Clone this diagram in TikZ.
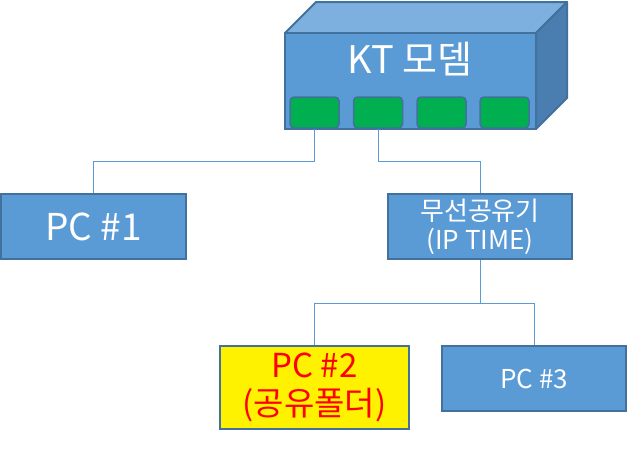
\documentclass[tikz,border=0pt]{standalone}
\usepackage{fontspec}
\setmainfont{Noto Sans CJK KR}
\definecolor{boxblue}{HTML}{5B9BD5}
\definecolor{edgeblue}{HTML}{41719C}
\definecolor{topblue}{HTML}{7EB0DF}
\definecolor{sideblue}{HTML}{4A7EB1}
\definecolor{portgreen}{HTML}{00B050}
\begin{document}
\begin{tikzpicture}[x=1pt,y=-1pt,
  bluebox/.style={draw=edgeblue,fill=boxblue,line width=2pt,inner sep=0pt,text=white,align=center},
  portbox/.style={draw=edgeblue,fill=portgreen,line width=1.5pt,rounded corners=4pt,minimum width=49pt,minimum height=31pt,inner sep=0pt},
  wire/.style={draw=boxblue,line width=1pt}]
\useasboundingbox (0,0) rectangle (628,448);
% modem cube
\fill[topblue,draw=edgeblue,line width=2pt,line join=round] (285,33) -- (316,2) -- (567,2) -- (536,33) -- cycle;
\fill[sideblue,draw=edgeblue,line width=2pt,line join=round] (536,33) -- (567,2) -- (567,98) -- (536,129) -- cycle;
\node[bluebox,minimum width=251pt,minimum height=96pt] (modem) at (410.5,81) {};
\node[text=white,font=\fontsize{38}{42}\selectfont] (modemlabel) at (410,59) {KT 모뎀};
\node[portbox] (p1) at (314.5,112.5) {};
\node[portbox] (p2) at (378,112.5) {};
\node[portbox] (p3) at (441.5,112.5) {};
\node[portbox] (p4) at (504.5,112.5) {};
% boxes
\node[bluebox,minimum width=185pt,minimum height=65pt,font=\fontsize{37}{40}\selectfont] (pc1) at (93.5,226.5) {PC \#1};
\node[bluebox,minimum width=184pt,minimum height=65pt,font=\fontsize{26}{29}\selectfont] (router) at (480,226.5) {무선공유기\\(IP TIME)};
\node[bluebox,fill=yellow,text=red,minimum width=189pt,minimum height=83pt,font=\fontsize{33}{38}\selectfont] (pc2) at (314.5,387.5) {PC \#2\\(공유폴더)};
\node[bluebox,minimum width=184pt,minimum height=65pt,font=\fontsize{26}{30}\selectfont] (pc3) at (534,378.5) {PC \#3};
% wires
\draw[wire] (p1.south) -- ++(0,33) -| (pc1.north);
\draw[wire] (p2.south) -- ++(0,33) -| (router.north);
\draw[wire] (router.south) -- ++(0,43) coordinate (j);
\draw[wire] (j) -| (pc2.north);
\draw[wire] (j) -| (pc3.north);
\end{tikzpicture}
\end{document}
